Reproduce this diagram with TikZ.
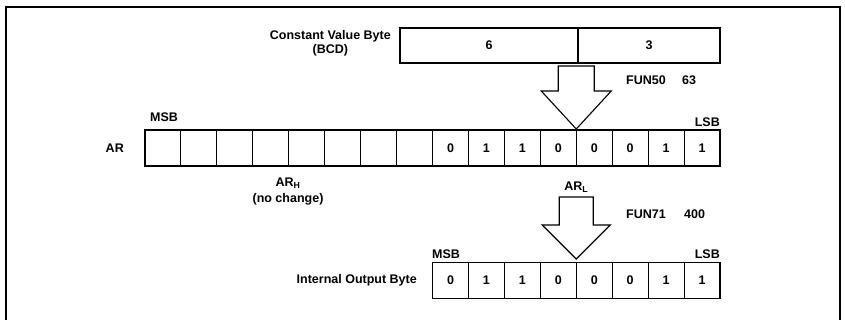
\documentclass[tikz,border=0pt]{standalone}
\usepackage{fontspec}
\setmainfont{Liberation Sans}
\begin{document}
\begin{tikzpicture}[x=1pt,y=-1pt,
  txt/.style={font=\bfseries\fontsize{12.5}{14}\selectfont},
  cell/.style={txt,draw,line width=1.1pt,minimum width=35.9375pt,minimum height=36pt,inner sep=0pt},
  nib/.style={txt,draw,line width=1.1pt,minimum height=35pt,inner sep=0pt},
  lbl/.style={txt,inner sep=0pt},
  blockarrow/.style={draw,line width=1.1pt,fill=white,line join=miter}]
\useasboundingbox (0,0) rectangle (845,320);
% frame
\draw[line width=1.5pt] (6,320) -- (6,7) -- (840,7) -- (840,320);
% constant value byte
\node[nib,minimum width=178pt] (c1) at (489,45.5) {6};
\node[nib,minimum width=142pt] (c2) at (649,45.5) {3};
\node[lbl,align=center,anchor=east] (clab) at (391,43) {Constant Value Byte\\(BCD)};
% arrow 1
\draw[blockarrow] (558.25,66) -- (594.25,66) -- (594.25,91) -- (611.25,91) -- (576.25,129) -- (541.25,91) -- (558.25,91) -- cycle;
\node[lbl,anchor=west] (f50) at (626,80) {FUN50};
\node[lbl,anchor=west] (f50n) at (682,80) {63};
% AR register
\foreach \i/\t in {1/,2/,3/,4/,5/,6/,7/,8/,9/0,10/1,11/1,12/0,13/0,14/0,15/1,16/1}{
  \node[cell] (ar\i) at ({145+35.9375*(\i-0.5)},148) {\t};
}
\node[lbl,anchor=east] (arlab) at (124,148) {AR};
\node[lbl,anchor=south west] (armsb) at (150,122) {MSB};
\node[lbl,anchor=south east] (arlsb) at (720,127) {LSB};
\node[lbl] (arh) at (288,183) {AR\textsubscript{H}};
\node[lbl] (arhnc) at (288,199) {(no change)};
\node[lbl] (arl) at (576.25,187) {AR\textsubscript{L}};
% arrow 2
\draw[blockarrow] (559.25,197) -- (593.25,197) -- (593.25,225) -- (610.25,225) -- (576.25,259) -- (542.25,225) -- (559.25,225) -- cycle;
\node[lbl,anchor=west] (f71) at (626,214) {FUN71};
\node[lbl,anchor=west] (f71n) at (684,214) {400};
% internal output byte
\foreach \i/\t in {1/0,2/1,3/1,4/0,5/0,6/0,7/1,8/1}{
  \node[cell] (ob\i) at ({432.5+35.9375*(\i-0.5)},280.5) {\t};
}
\node[lbl,anchor=east] (oblab) at (417,280) {Internal Output Byte};
\node[lbl,anchor=south west] (obmsb) at (432,259) {MSB};
\node[lbl,anchor=south east] (oblsb) at (720,259) {LSB};
\end{tikzpicture}
\end{document}
